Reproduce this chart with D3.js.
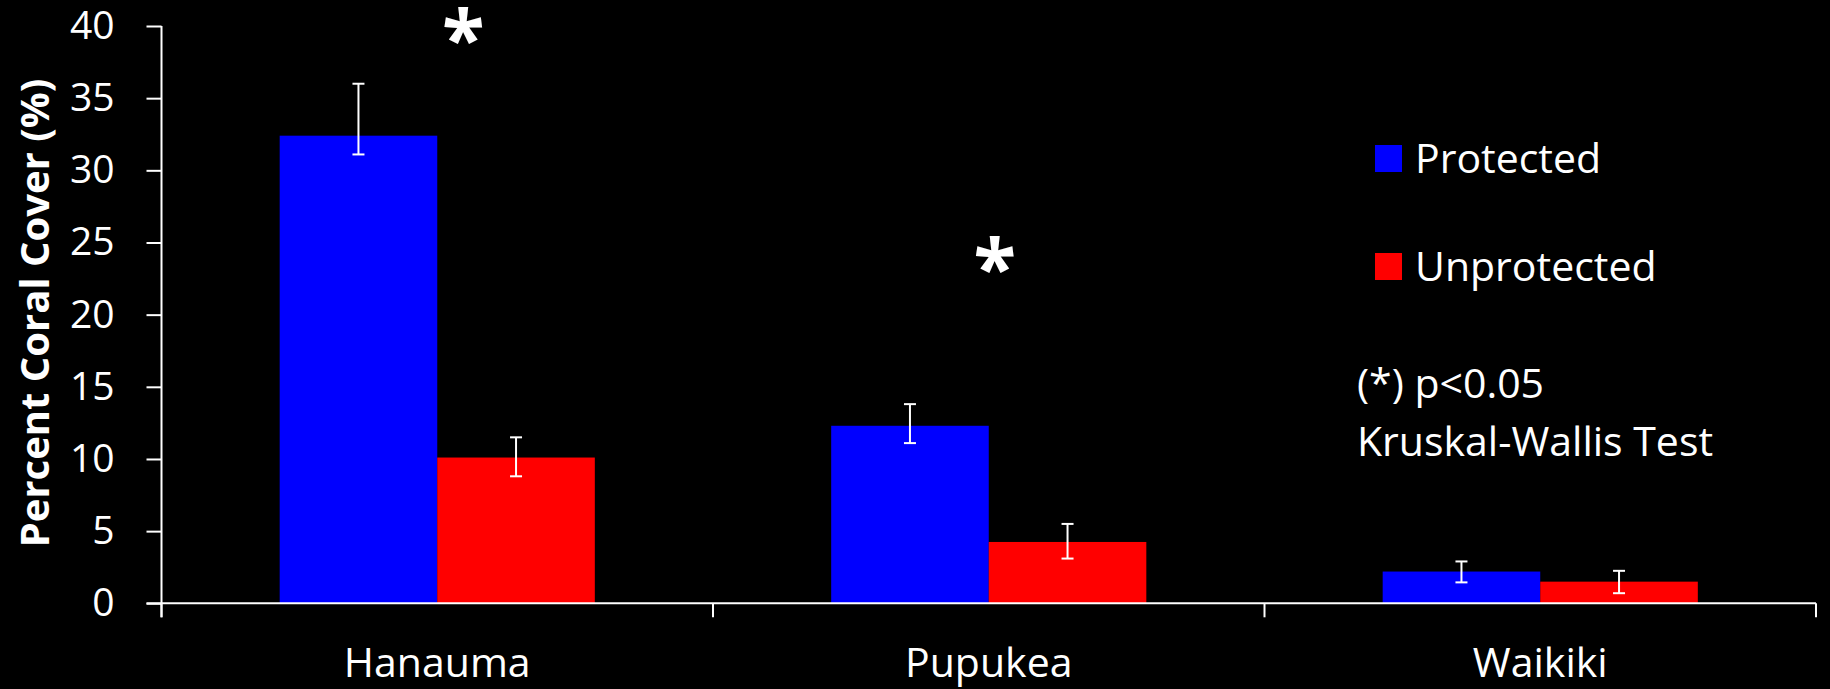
<!DOCTYPE html>
<html>
<head>
<meta charset="utf-8">
<script src="https://cdn.jsdelivr.net/npm/d3@7/dist/d3.min.js"></script>
<style>
  html, body { margin: 0; padding: 0; background: #000; }
  svg { display: block; }
  text { font-family: "Open Sans", "Noto Sans", sans-serif; fill: #fff; }
</style>
</head>
<body>
<svg id="chart" width="1830" height="689"></svg>
<script>
// Sites and survey groups
const sites = ["Hanauma", "Pupukea", "Waikiki"];
const groups = ["Protected", "Unprotected"];
const groupColors = ["#0000ff", "#ff0000"];

// Mean percent coral cover per site
const protectedCover = [32.4, 12.3, 2.2];
const unprotectedCover = [10.1, 4.25, 1.5];

// Error bar extents (upper / lower) per site
const protectedUpper = [36.0, 13.8, 2.9];
const protectedLower = [31.1, 11.1, 1.45];
const unprotectedUpper = [11.5, 5.5, 2.25];
const unprotectedLower = [8.8, 3.1, 0.7];

// Y axis ticks
const yTicks = [0, 5, 10, 15, 20, 25, 30, 35, 40];

// Significance markers: site, height in axis units, horizontal nudge
const sigSites = ["Hanauma", "Pupukea"];
const sigLevels = [39.8, 23.9];
const sigNudge = [26, 6];

const svg = d3.select("#chart");
const plotLeft = 161.5, plotRight = 1816, plotTop = 26, plotBottom = 603.3;

const x0 = d3.scaleBand().domain(sites).range([plotLeft, plotRight]).paddingInner(0).paddingOuter(0);
const x1 = d3.scaleBand().domain(groups).range([0, x0.bandwidth()]).paddingInner(0).paddingOuter(0.75);
const y = d3.scaleLinear().domain([0, 40]).range([plotBottom, plotTop]);

const rows = [];
sites.forEach((s, i) => {
  rows.push({ site: s, group: groups[0], v: protectedCover[i], hi: protectedUpper[i], lo: protectedLower[i], c: groupColors[0] });
  rows.push({ site: s, group: groups[1], v: unprotectedCover[i], hi: unprotectedUpper[i], lo: unprotectedLower[i], c: groupColors[1] });
});

// Bars
svg.append("g").selectAll("rect").data(rows).join("rect")
  .attr("x", d => x0(d.site) + x1(d.group))
  .attr("y", d => y(d.v))
  .attr("width", x1.bandwidth())
  .attr("height", d => y(0) - y(d.v))
  .attr("fill", d => d.c);

// Error bars
const eb = svg.append("g").attr("stroke", "#fff").attr("stroke-width", 2);
rows.forEach(d => {
  const cx = x0(d.site) + x1(d.group) + x1.bandwidth() / 2;
  eb.append("line").attr("x1", cx).attr("x2", cx).attr("y1", y(d.hi)).attr("y2", y(d.lo));
  eb.append("line").attr("x1", cx - 6).attr("x2", cx + 6).attr("y1", y(d.hi)).attr("y2", y(d.hi));
  eb.append("line").attr("x1", cx - 6).attr("x2", cx + 6).attr("y1", y(d.lo)).attr("y2", y(d.lo));
});

// Y axis
const yAxis = svg.append("g").attr("transform", `translate(${plotLeft},0)`)
  .call(d3.axisLeft(y).tickValues(yTicks).tickSize(15).tickPadding(32).tickSizeOuter(0));
yAxis.select(".domain").attr("stroke", "#fff").attr("stroke-width", 2)
  .attr("d", `M0,${plotTop}V${plotBottom + 14}`);
yAxis.selectAll(".tick line").attr("stroke", "#fff").attr("stroke-width", 2);
yAxis.selectAll(".tick text").attr("fill", "#fff")
  .style("font-family", '"Open Sans", sans-serif').style("font-size", "39px");

// X axis with tick marks between sites
const xAxisG = svg.append("g");
xAxisG.append("line").attr("x1", plotLeft - 15).attr("x2", plotRight)
  .attr("y1", plotBottom).attr("y2", plotBottom).attr("stroke", "#fff").attr("stroke-width", 2);
const edges = sites.map(s => x0(s)).concat([plotRight]);
xAxisG.selectAll("line.edge").data(edges).join("line").attr("class", "edge")
  .attr("x1", d => d).attr("x2", d => d).attr("y1", plotBottom).attr("y2", plotBottom + 14)
  .attr("stroke", "#fff").attr("stroke-width", 2);
xAxisG.selectAll("text").data(sites).join("text")
  .attr("x", d => x0(d) + x0.bandwidth() / 2)
  .attr("y", 677)
  .attr("text-anchor", "middle")
  .style("font-size", "41px")
  .text(d => d);

// Y axis title
svg.append("text")
  .attr("transform", `translate(49,313) rotate(-90)`)
  .attr("text-anchor", "middle")
  .style("font-size", "40px").style("font-weight", "bold")
  .text("Percent Coral Cover (%)");

// Legend
const legend = svg.append("g");
groups.forEach((g, i) => {
  const yy = 145 + i * 108;
  legend.append("rect").attr("x", 1375).attr("y", yy).attr("width", 27).attr("height", 27).attr("fill", groupColors[i]);
  legend.append("text").attr("x", 1415).attr("y", yy + 28).style("font-size", "41px").text(g);
});

// Test note
svg.append("text").attr("x", 1357).attr("y", 398).style("font-size", "41px").text("(*) p<0.05");
svg.append("text").attr("x", 1357).attr("y", 456).style("font-size", "41px").text("Kruskal-Wallis Test");

// Significance asterisks, centred on their target point
sigSites.forEach((s, i) => {
  const cx = x0(s) + x0.bandwidth() / 2 + sigNudge[i];
  const cy = y(sigLevels[i]);
  const t = svg.append("text").attr("x", 0).attr("y", 0)
    .style("font-size", "78px").style("font-weight", "bold").text("*");
  const b = t.node().getBBox();
  t.attr("x", cx - (b.x + b.width / 2)).attr("y", cy - (b.y + b.height / 2) + 8);
});
</script>
</body>
</html>
